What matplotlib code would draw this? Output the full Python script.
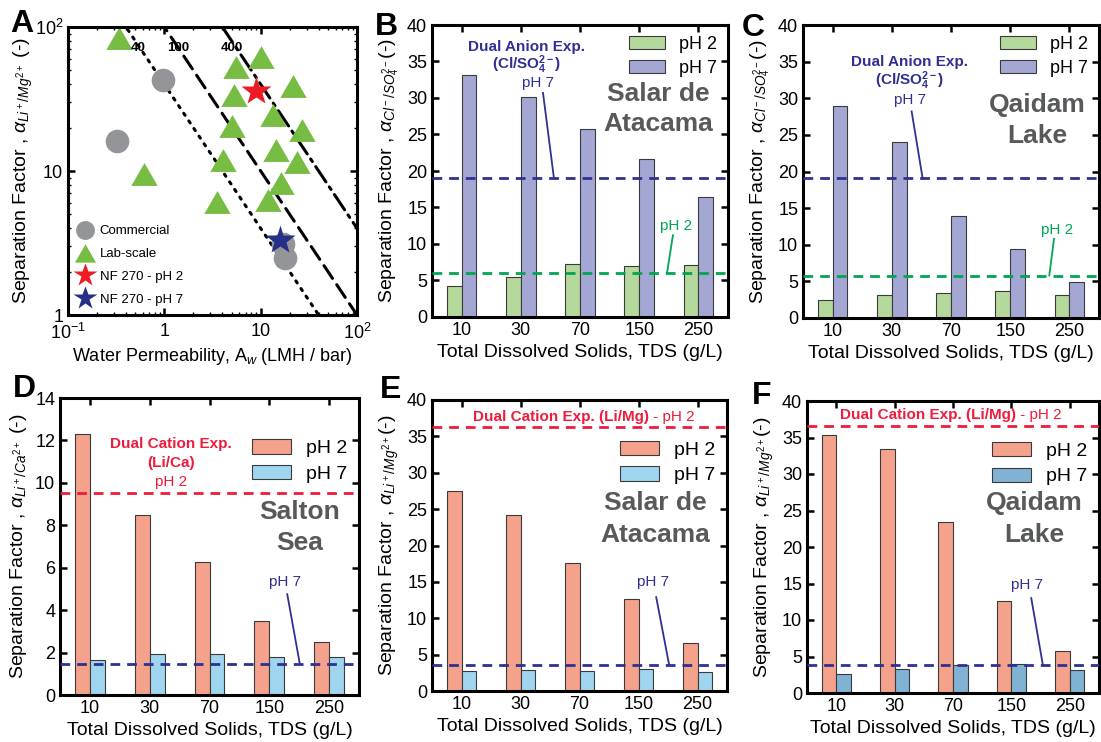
import numpy as np
import matplotlib
matplotlib.use('Agg')
from matplotlib import pyplot as plt

plt.rcParams['font.family'] = ['Liberation Sans', 'DejaVu Sans']
plt.rcParams['mathtext.fontset'] = 'custom'
plt.rcParams['mathtext.rm'] = 'Liberation Sans'
plt.rcParams['mathtext.it'] = 'Liberation Sans:italic'
plt.rcParams['mathtext.bf'] = 'Liberation Sans:bold'

# ---- Panel A: separation factor vs water permeability ----
comm_aw = [0.97, 0.32, 17.7, 17.0]
comm_alpha = [42.7, 16.2, 2.5, 3.1]
lab_aw = [0.34, 10.2, 5.5, 21.7, 5.3, 13.4, 27.1, 5.1, 14.3, 4.1, 23.8, 0.61, 16.4, 11.9, 3.5]
lab_alpha = [84, 62, 52.8, 38.7, 33.6, 24.4, 19.2, 20.5, 14.1, 11.9, 11.6, 9.6, 8.2, 6.3, 6.1]
nf_ph2 = [9.0, 36.0]
nf_ph7 = [16.0, 3.3]
bound_levels = [40, 100, 400]

# ---- Panels B-F: separation factor vs TDS ----
tds = ['10', '30', '70', '150', '250']
b_ph2 = [4.2, 5.45, 7.3, 7.05, 7.1]
b_ph7 = [33.2, 30.1, 25.7, 21.7, 16.4]
b_ref = [6.05, 19.0]   # dual anion exp. pH 2, pH 7
c_ph2 = [2.4, 3.1, 3.4, 3.7, 3.1]
c_ph7 = [28.9, 24.0, 13.9, 9.4, 4.9]
c_ref = [5.8, 19.1]
d_ph2 = [12.3, 8.47, 6.28, 3.49, 2.51]
d_ph7 = [1.66, 1.94, 1.94, 1.81, 1.81]
d_ref = [9.51, 1.47]   # dual cation exp. pH 2, pH 7
e_ph2 = [27.5, 24.2, 17.6, 12.6, 6.6]
e_ph7 = [2.74, 2.9, 2.8, 3.0, 2.65]
e_ref = [36.3, 3.56]
f_ph2 = [35.4, 33.4, 23.4, 12.6, 5.7]
f_ph7 = [2.55, 3.33, 3.87, 4.0, 3.19]
f_ref = [36.6, 3.78]

NAVY = '#2e3192'
GREEN_LINE = '#00a651'
RED = '#ed1c3c'
GRAY_TXT = '#58595b'
SALMON = '#f4a28c'
SKY = '#9fd5ef'
STEEL = '#7fb2d3'
LGREEN = '#b5d99c'
LPURPLE = '#a4a7d4'
DASH = (0, (3.5, 2.5))

fig = plt.figure(figsize=(11.01, 7.42), dpi=100)
W, H = 1101.0, 742.0


def make_ax(l, t, r, b):
    return fig.add_axes([l / W, (H - b) / H, (r - l) / W, (b - t) / H])


def style(ax):
    for s in ax.spines.values():
        s.set_linewidth(2.2)
    ax.tick_params(direction='in', which='major', length=5, width=1.8,
                   top=True, right=True, labelsize=13)
    ax.tick_params(direction='in', which='minor', length=2.5, width=1.0,
                   top=True, right=True)


# Panel A
axA = make_ax(68, 27, 357, 315)
tri = [(0, 0.866), (-1, -0.866), (1, -0.866)]
xs = np.array([0.1, 100.0])
styles = [(0, (0.8, 2.2)), (0, (5, 2.5)), (0, (6, 2, 1, 2))]
for lvl, ls in zip(bound_levels, styles):
    axA.plot(xs, lvl / xs, color='black', lw=2.2, ls=ls, dash_capstyle='round', zorder=1)
axA.plot(comm_aw, comm_alpha, 'o', ms=17, color='#939598', mec='none', label='Commercial', zorder=2)
axA.plot(lab_aw, lab_alpha, marker=tri, ls='none', ms=19, color='#77bc43', mec='none', label='Lab-scale', zorder=2)
axA.plot([nf_ph2[0]], [nf_ph2[1]], '*', ms=22, color='#ed1c24', mec='none', label='NF 270 - pH 2', zorder=3)
axA.plot([nf_ph7[0]], [nf_ph7[1]], '*', ms=22, color='#262e87', mec='none', label='NF 270 - pH 7', zorder=3)
axA.set_xscale('log')
axA.set_yscale('log')
axA.set_xlim(0.1, 100)
axA.set_ylim(1, 100)
axA.set_xticks([0.1, 1, 10, 100])
axA.set_xticklabels(['$10^{-1}$', '1', '10', '$10^{2}$'])
axA.set_yticks([1, 10, 100])
axA.set_yticklabels(['1', '10', '$10^{2}$'])
style(axA)
axA.tick_params(axis='x', pad=6)
axA.set_xlabel('Water Permeability, A$_w$ (LMH / bar)', fontsize=13, labelpad=2)
axA.set_ylabel(r'Separation Factor , $\alpha_{Li^+/Mg^{2+}}$ (-)', fontsize=14, labelpad=0)
for lvl, xl in zip(bound_levels, [0.53, 1.39, 5.05]):
    axA.text(xl, 71, str(lvl), fontsize=9.5, fontweight='bold', ha='center', va='center')
axA.legend(loc='lower left', frameon=False, fontsize=9.5, markerscale=0.8,
           handlelength=1.2, handletextpad=0.5, labelspacing=0.8, borderaxespad=0.3)


def bar_panel(ax, ph2, ph7, c2, c7, ymax, ystep, ylabel, legfs, leg_y):
    x = np.arange(len(tds))
    ax.bar(x - 0.125, ph2, 0.25, color=c2, edgecolor='#3a3a3a', lw=0.8, label='pH 2', zorder=2)
    ax.bar(x + 0.125, ph7, 0.25, color=c7, edgecolor='#3a3a3a', lw=0.8, label='pH 7', zorder=2)
    ax.set_xlim(-0.5, 4.5)
    ax.set_ylim(0, ymax)
    ax.set_xticks(x)
    ax.set_xticklabels(tds)
    ax.set_yticks(np.arange(0, ymax + 0.01, ystep))
    style(ax)
    ax.set_xlabel('Total Dissolved Solids, TDS (g/L)', fontsize=14)
    ax.set_ylabel(ylabel, fontsize=14)
    ax.legend(loc='upper right', bbox_to_anchor=(1.0, leg_y), frameon=False, fontsize=legfs,
              handlelength=2.0, handleheight=0.75, labelspacing=0.4, borderaxespad=0.2)


def lead(ax, x0, y0, x1, y1, color):
    ax.plot([x0, x1], [y0, y1], color=color, lw=1.3, zorder=4)


# Panel B
axB = make_ax(432, 25, 728, 317)
bar_panel(axB, b_ph2, b_ph7, LGREEN, LPURPLE, 40, 5,
          r'Separation Factor , $\alpha_{Cl^-/SO_4^{2-}}$(-)', 13, 1.0)
axB.axhline(b_ref[0], color=GREEN_LINE, ls=DASH, lw=2, zorder=3)
axB.axhline(b_ref[1], color=NAVY, ls=DASH, lw=2, zorder=3)
axB.text(1.10, 37.0, 'Dual Anion Exp.', color=NAVY, fontsize=11, fontweight='bold', ha='center', va='center')
axB.text(1.10, 34.6, r'(Cl/SO$_\mathbf{4}^{\mathbf{2-}}$)', color=NAVY, fontsize=11, fontweight='bold', ha='center', va='center')
axB.text(1.29, 32.0, 'pH 7', color=NAVY, fontsize=11, ha='center', va='center')
lead(axB, 1.375, 30.7, 1.56, b_ref[1], NAVY)
axB.text(3.62, 12.5, 'pH 2', color=GREEN_LINE, fontsize=11, ha='center', va='center')
lead(axB, 3.57, 11.2, 3.47, b_ref[0], GREEN_LINE)
axB.text(3.32, 30.5, 'Salar de', color=GRAY_TXT, fontsize=19, fontweight='bold', ha='center', va='center')
axB.text(3.32, 26.4, 'Atacama', color=GRAY_TXT, fontsize=19, fontweight='bold', ha='center', va='center')

# Panel C
axC = make_ax(803, 25, 1099, 318)
bar_panel(axC, c_ph2, c_ph7, LGREEN, LPURPLE, 40, 5,
          r'Separation Factor , $\alpha_{Cl^-/SO_4^{2-}}$(-)', 13, 1.0)
axC.axhline(c_ref[0], color=GREEN_LINE, ls=DASH, lw=2, zorder=3)
axC.axhline(c_ref[1], color=NAVY, ls=DASH, lw=2, zorder=3)
axC.text(1.30, 34.9, 'Dual Anion Exp.', color=NAVY, fontsize=11, fontweight='bold', ha='center', va='center')
axC.text(1.30, 32.4, r'(Cl/SO$_\mathbf{4}^{\mathbf{2-}}$)', color=NAVY, fontsize=11, fontweight='bold', ha='center', va='center')
axC.text(1.30, 29.8, 'pH 7', color=NAVY, fontsize=11, ha='center', va='center')
lead(axC, 1.335, 28.2, 1.52, c_ref[1], NAVY)
axC.text(3.79, 12.0, 'pH 2', color=GREEN_LINE, fontsize=11, ha='center', va='center')
lead(axC, 3.74, 10.8, 3.66, c_ref[0], GREEN_LINE)
axC.text(3.46, 29.1, 'Qaidam', color=GRAY_TXT, fontsize=19, fontweight='bold', ha='center', va='center')
axC.text(3.46, 24.8, 'Lake', color=GRAY_TXT, fontsize=19, fontweight='bold', ha='center', va='center')

# Panel D
axD = make_ax(60, 398, 359, 695)
bar_panel(axD, d_ph2, d_ph7, SALMON, SKY, 14, 2,
          r'Separation Factor , $\alpha_{Li^+/Ca^{2+}}$ (-)', 14, 0.9)
axD.axhline(d_ref[0], color=RED, ls=DASH, lw=2, zorder=3)
axD.axhline(d_ref[1], color=NAVY, ls=DASH, lw=2, zorder=3)
axD.text(1.36, 11.84, 'Dual Cation Exp.', color=RED, fontsize=11, fontweight='bold', ha='center', va='center')
axD.text(1.36, 10.94, '(Li/Ca)', color=RED, fontsize=11, fontweight='bold', ha='center', va='center')
axD.text(1.36, 10.05, 'pH 2', color=RED, fontsize=11, ha='center', va='center')
axD.text(3.51, 8.63, 'Salton', color=GRAY_TXT, fontsize=19, fontweight='bold', ha='center', va='center')
axD.text(3.51, 7.17, 'Sea', color=GRAY_TXT, fontsize=19, fontweight='bold', ha='center', va='center')
axD.text(3.26, 5.33, 'pH 7', color=NAVY, fontsize=11, ha='center', va='center')
lead(axD, 3.30, 4.75, 3.51, d_ref[1], NAVY)


def cation_title(ax, x, y):
    t1 = ax.text(x, y, 'Dual Cation Exp. (Li/Mg)', color=RED, fontsize=11, fontweight='bold',
                 ha='right', va='center')
    ax.annotate(' - pH 2', xy=(1, 0.5), xycoords=t1, color=RED, fontsize=11, ha='left', va='center')


# Panel E
axE = make_ax(432, 400, 727, 691)
bar_panel(axE, e_ph2, e_ph7, SALMON, SKY, 40, 5,
          r'Separation Factor , $\alpha_{Li^+/Mg^{2+}}$(-)', 14, 0.9)
axE.axhline(e_ref[0], color=RED, ls=DASH, lw=2, zorder=3)
axE.axhline(e_ref[1], color=NAVY, ls=DASH, lw=2, zorder=3)
cation_title(axE, 3.17, 37.7)
axE.text(3.28, 25.8, 'Salar de', color=GRAY_TXT, fontsize=19, fontweight='bold', ha='center', va='center')
axE.text(3.28, 21.4, 'Atacama', color=GRAY_TXT, fontsize=19, fontweight='bold', ha='center', va='center')
axE.text(3.25, 15.0, 'pH 7', color=NAVY, fontsize=11, ha='center', va='center')
lead(axE, 3.30, 12.9, 3.52, e_ref[1], NAVY)

# Panel F
axF = make_ax(807, 401, 1099, 693)
bar_panel(axF, f_ph2, f_ph7, SALMON, STEEL, 40, 5,
          r'Separation Factor , $\alpha_{Li^+/Mg^{2+}}$(-)', 14, 0.9)
axF.axhline(f_ref[0], color=RED, ls=DASH, lw=2, zorder=3)
axF.axhline(f_ref[1], color=NAVY, ls=DASH, lw=2, zorder=3)
cation_title(axF, 3.08, 38.1)
axF.text(3.39, 26.0, 'Qaidam', color=GRAY_TXT, fontsize=19, fontweight='bold', ha='center', va='center')
axF.text(3.39, 21.6, 'Lake', color=GRAY_TXT, fontsize=19, fontweight='bold', ha='center', va='center')
axF.text(3.27, 14.8, 'pH 7', color=NAVY, fontsize=11, ha='center', va='center')
lead(axF, 3.34, 13.0, 3.54, f_ref[1], NAVY)

# panel letters
for lab, px, py in [('A', 22, 24), ('B', 386, 27), ('C', 753, 28),
                    ('D', 24, 389), ('E', 391, 390), ('F', 762, 396)]:
    fig.text(px / W, 1 - py / H, lab, fontsize=23, fontweight='bold', ha='center', va='center')

fig.savefig('out.png', dpi=100)
